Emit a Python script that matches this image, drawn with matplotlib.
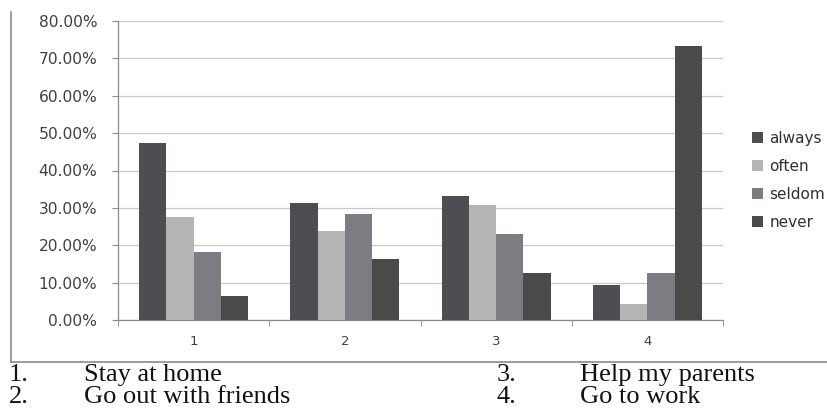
import numpy as np
import matplotlib
matplotlib.use("Agg")
import matplotlib.pyplot as plt
from matplotlib.lines import Line2D

# data
categories = ["1", "2", "3", "4"]
series_names = ["always", "often", "seldom", "never"]
always = [47.4, 31.2, 33.3, 9.4]
often = [27.6, 23.8, 30.7, 4.2]
seldom = [18.1, 28.3, 22.9, 12.6]
never = [6.4, 16.3, 12.5, 73.3]
y_ticks = [0, 10, 20, 30, 40, 50, 60, 70, 80]
notes_left = [("1.", "Stay at home"), ("2.", "Go out with friends")]
notes_right = [("3.", "Help my parents"), ("4.", "Go to work")]

colors = ["#4f4d51", "#b5b5b5", "#7f7b82", "#4a4a4a"]
W, H = 827, 408

fig = plt.figure(figsize=(W / 100, H / 100), dpi=100)
ax = fig.add_axes([118 / W, 1 - 320 / H, (723 - 118) / W, (320 - 21) / H])

x = np.arange(1, len(categories) + 1)
bw = 0.18
for i, (vals, name) in enumerate(zip([always, often, seldom, never], series_names)):
    ax.bar(x + (i - 1.5) * bw, vals, width=bw, color=colors[i], label=name,
           edgecolor="none", zorder=3)

ax.set_xlim(0.5, 4.5)
ax.set_ylim(0, 80)
ax.set_yticks(y_ticks)
ax.set_yticklabels([f"{v:.2f}%" for v in y_ticks])
ax.yaxis.grid(True, color="#c9c9c9", linewidth=0.9, zorder=0)
ax.set_axisbelow(True)

ax.set_xticks(x)
ax.set_xticklabels(categories)
ax.set_xticks(np.arange(0.5, 4.6, 1.0), minor=True)
ax.tick_params(axis="x", which="major", length=0, pad=11, labelsize=9.5, labelcolor="#404040")
ax.tick_params(axis="x", which="minor", length=4, color="#8a8a8a", direction="out")
ax.tick_params(axis="y", length=4, color="#8a8a8a", labelsize=11.2, labelcolor="#404040", pad=11)

for s in ["top", "right"]:
    ax.spines[s].set_visible(False)
for s in ["left", "bottom"]:
    ax.spines[s].set_color("#8a8a8a")
    ax.spines[s].set_linewidth(0.9)

# legend kept fully inside the picture
fig.legend(loc="upper left", bbox_to_anchor=(752 / W, 1 - 131 / H), frameon=False,
           borderpad=0, borderaxespad=0, handlelength=0.75, handleheight=0.75,
           handletextpad=0.4, labelspacing=0.85, prop={"size": 11},
           labelcolor="#303030")

# outer frame lines (left and bottom)
fig.add_artist(Line2D([11 / W, 11 / W], [1 - 12 / H, 1 - 362 / H], color="#8a8a8a", linewidth=1.2))
fig.add_artist(Line2D([11 / W, 1.0], [1 - 362 / H, 1 - 362 / H], color="#8a8a8a", linewidth=1.2))

# footnotes under the chart
row_y = [1 - 375 / H, 1 - 397 / H]
for (num, txt), yy in zip(notes_left, row_y):
    fig.text(9 / W, yy, num, family="Liberation Serif", fontsize=19, va="center", color="#111111")
    fig.text(84 / W, yy, txt, family="Liberation Serif", fontsize=19, va="center", color="#111111")
for (num, txt), yy in zip(notes_right, row_y):
    fig.text(497 / W, yy, num, family="Liberation Serif", fontsize=19, va="center", color="#111111")
    fig.text(580 / W, yy, txt, family="Liberation Serif", fontsize=19, va="center", color="#111111")

fig.savefig("out.png", dpi=100)
